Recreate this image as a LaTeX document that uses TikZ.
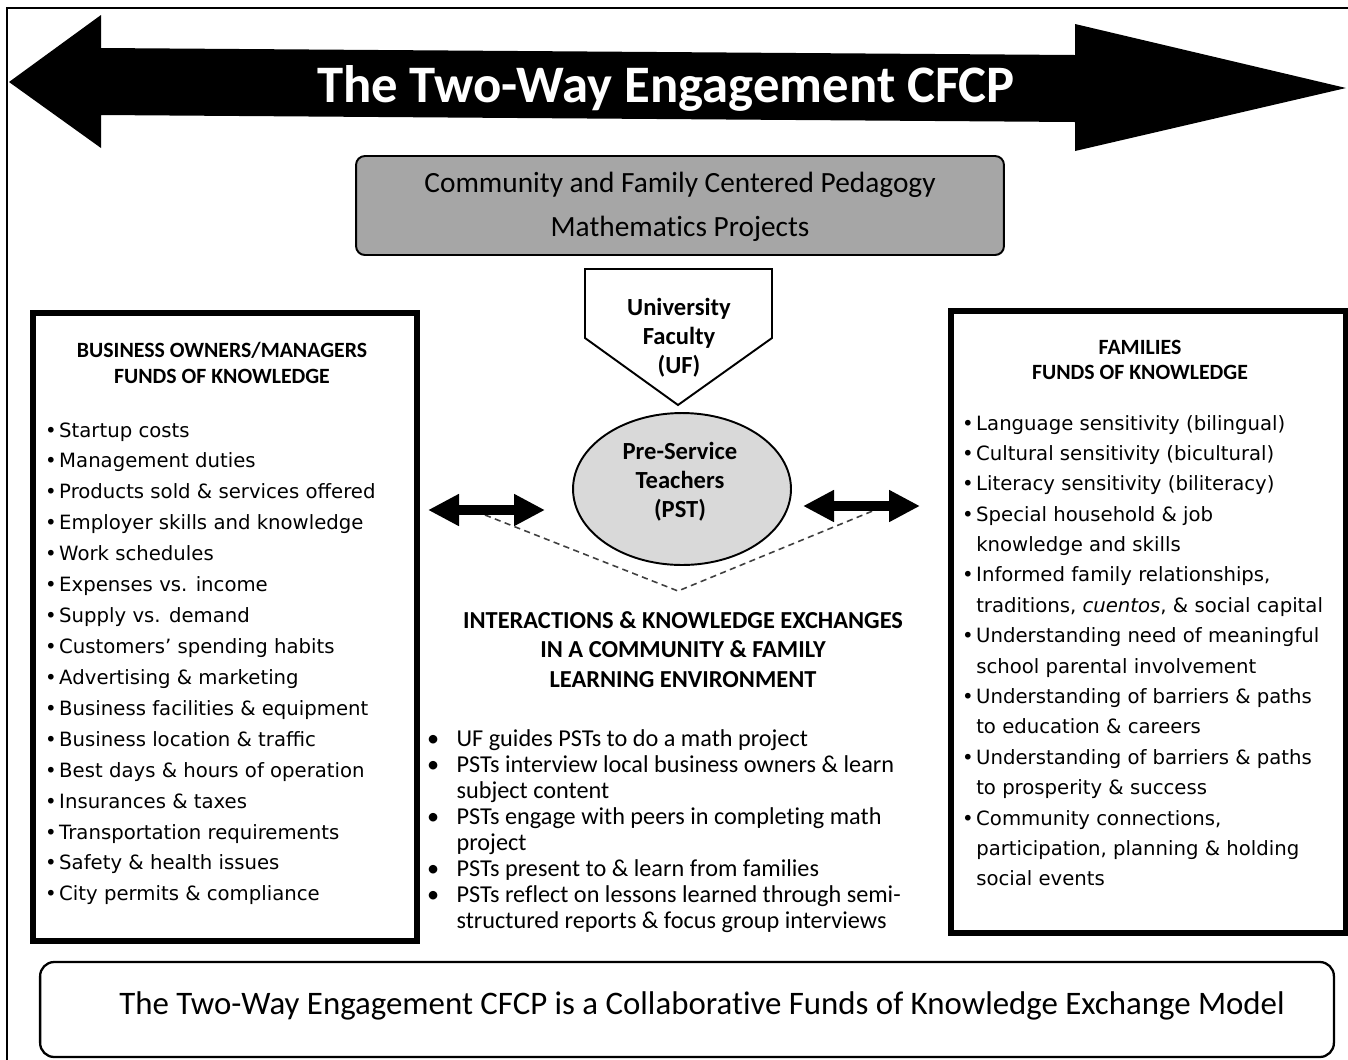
\documentclass[tikz,border=0pt]{standalone}
\usepackage{fontspec}
\setmainfont{Carlito}[Ligatures={TeX,NoCommon}]
\newfontfamily\dejavu{DejaVu Sans}
\usetikzlibrary{arrows.meta,shapes.geometric}

\definecolor{cfcpgray}{HTML}{A6A6A6}
\definecolor{pstgray}{HTML}{D9D9D9}

\begin{document}
\begin{tikzpicture}[x=0.02cm, y=-0.02cm, thick,
    every node/.style={inner sep=0pt, outer sep=0pt},
    fkbox/.style={draw, line width=3pt},
    fktitle/.style={anchor=base, font=\bfseries\fontsize{12.4}{15.3}\selectfont},
    fklist/.style={anchor=base west, font=\dejavu\fontsize{11.2}{17.6}\selectfont},
    twoway/.style={line width=0.2cm, {Triangle[length=0.62cm, width=0.6cm]}-{Triangle[length=0.62cm, width=0.6cm]}},
    exchange/.style={line width=0.9pt, dash pattern=on 3.5pt off 2.5pt, black!75}]

  \useasboundingbox (0,0) rectangle (1348,1059);

  % outer frame
  \draw[line width=1.2pt] (7,8) rectangle (1356,1066);

  % title arrow
  \fill (9,82) -- (101,15) -- (101,48) -- (1075,55) -- (1075,24) -- (1346,88)
    -- (1075,151) -- (1075,122) -- (101,115) -- (101,148) -- cycle;
  \node[anchor=base, text=white, font=\bfseries\fontsize{30}{32}\selectfont] (title) at (666,102)
    {The Two-Way Engagement CFCP};

  % pedagogy box
  \node[draw, fill=cfcpgray, rounded corners=5pt, line width=1.1pt,
    minimum width=12.96cm, minimum height=1.98cm] (cfcp) at (680,205.5) {};
  \node[anchor=base, font=\fontsize{16.7}{24.9}\selectfont] (cfcptext) at (680,192.5)
    {\begin{tabular}[t]{@{}c@{}}Community and Family Centered Pedagogy\\Mathematics Projects\end{tabular}};

  % university faculty
  \draw[line width=1.1pt, fill=white] (585,269) -- (772,269) -- (772,338) -- (678,405) -- (585,338) -- cycle;
  \node[anchor=base, font=\bfseries\fontsize{14}{16.7}\selectfont] (uf) at (679,315)
    {\begin{tabular}[t]{@{}c@{}}University\\Faculty\\(UF)\end{tabular}};

  % pre-service teachers
  \node[draw, ellipse, fill=pstgray, line width=1.1pt,
    minimum width=4.36cm, minimum height=3.04cm] (pst) at (682,489) {};
  \node[anchor=base, font=\bfseries\fontsize{14}{16.7}\selectfont] (psttext) at (680,459)
    {\begin{tabular}[t]{@{}c@{}}Pre-Service\\Teachers\\(PST)\end{tabular}};

  % business owners
  \node[fkbox, minimum width=7.68cm, minimum height=12.56cm] (biz) at (225,627) {};
  \node[fktitle] (biztitle) at (222,357)
    {\begin{tabular}[t]{@{}c@{}}BUSINESS OWNERS/MANAGERS\\FUNDS OF KNOWLEDGE\end{tabular}};
  \node[fklist] (bizlist) at (45,437) {\begin{tabular}[t]{@{}l@{\hspace{1.5pt}}l@{}}
    \textbullet & Startup costs\\
    \textbullet & Management duties\\
    \textbullet & Products sold \& services offered\\
    \textbullet & Employer skills and knowledge\\
    \textbullet & Work schedules\\
    \textbullet & Expenses vs. income\\
    \textbullet & Supply vs. demand\\
    \textbullet & Customers’ spending habits\\
    \textbullet & Advertising \& marketing\\
    \textbullet & Business facilities \& equipment\\
    \textbullet & Business location \& traffic\\
    \textbullet & Best days \& hours of operation\\
    \textbullet & Insurances \& taxes\\
    \textbullet & Transportation requirements\\
    \textbullet & Safety \& health issues\\
    \textbullet & City permits \& compliance
  \end{tabular}};

  % families
  \node[fkbox, minimum width=7.9cm, minimum height=12.44cm] (fam) at (1148.5,622) {};
  \node[fktitle, font=\bfseries\fontsize{12.4}{14.7}\selectfont] (famtitle) at (1140,354)
    {\begin{tabular}[t]{@{}c@{}}FAMILIES\\FUNDS OF KNOWLEDGE\end{tabular}};
  \node[fklist, font=\dejavu\fontsize{11.2}{17.3}\selectfont] (famlist) at (962,430) {\begin{tabular}[t]{@{}l@{\hspace{1.5pt}}l@{}}
    \textbullet & Language sensitivity (bilingual)\\
    \textbullet & Cultural sensitivity (bicultural)\\
    \textbullet & Literacy sensitivity (biliteracy)\\
    \textbullet & Special household \& job\\
                & knowledge and skills\\
    \textbullet & Informed family relationships,\\
                & traditions, \textit{cuentos}, \& social capital\\
    \textbullet & Understanding need of meaningful\\
                & school parental involvement\\
    \textbullet & Understanding of barriers \& paths\\
                & to education \& careers\\
    \textbullet & Understanding of barriers \& paths\\
                & to prosperity \& success\\
    \textbullet & Community connections,\\
                & participation, planning \& holding\\
                & social events
  \end{tabular}};

  % exchanges in the middle
  \node[anchor=base, font=\bfseries\fontsize{13.9}{17}\selectfont] (exch) at (683,628)
    {\begin{tabular}[t]{@{}c@{}}INTERACTIONS \& KNOWLEDGE EXCHANGES\\IN A COMMUNITY \& FAMILY\\LEARNING ENVIRONMENT\end{tabular}};
  \node[anchor=base west, font=\fontsize{13.8}{14.8}\selectfont] (steps) at (427,746) {\begin{tabular}[t]{@{}l@{\hspace{10pt}}l@{}}
    \textbullet & UF guides PSTs to do a math project\\
    \textbullet & PSTs interview local business owners \& learn\\
                & subject content\\
    \textbullet & PSTs engage with peers in completing math\\
                & project\\
    \textbullet & PSTs present to \& learn from families\\
    \textbullet & PSTs reflect on lessons learned through semi-\\
                & structured reports \& focus group interviews
  \end{tabular}};

  % bottom statement
  \node[draw, rounded corners=8pt, line width=1.3pt,
    minimum width=25.88cm, minimum height=1.9cm] (model) at (687,1009.5) {};
  \node[anchor=base, font=\fontsize{18.7}{20}\selectfont] (modeltext) at (702,1014)
    {The Two-Way Engagement CFCP is a Collaborative Funds of Knowledge Exchange Model};

  % connectors
  \coordinate (xl) at (485,515);
  \coordinate (xv) at (678,591);
  \coordinate (xr) at (875,510);
  \draw[exchange] (xl) -- (xv) -- (xr);

  \coordinate (bizend) at (428,510);
  \coordinate (pstwest) at (545,510);
  \coordinate (psteast) at (803,506);
  \coordinate (famend) at (920,506);
  \draw[twoway] (bizend) -- (pstwest);
  \draw[twoway] (psteast) -- (famend);

\end{tikzpicture}
\end{document}
